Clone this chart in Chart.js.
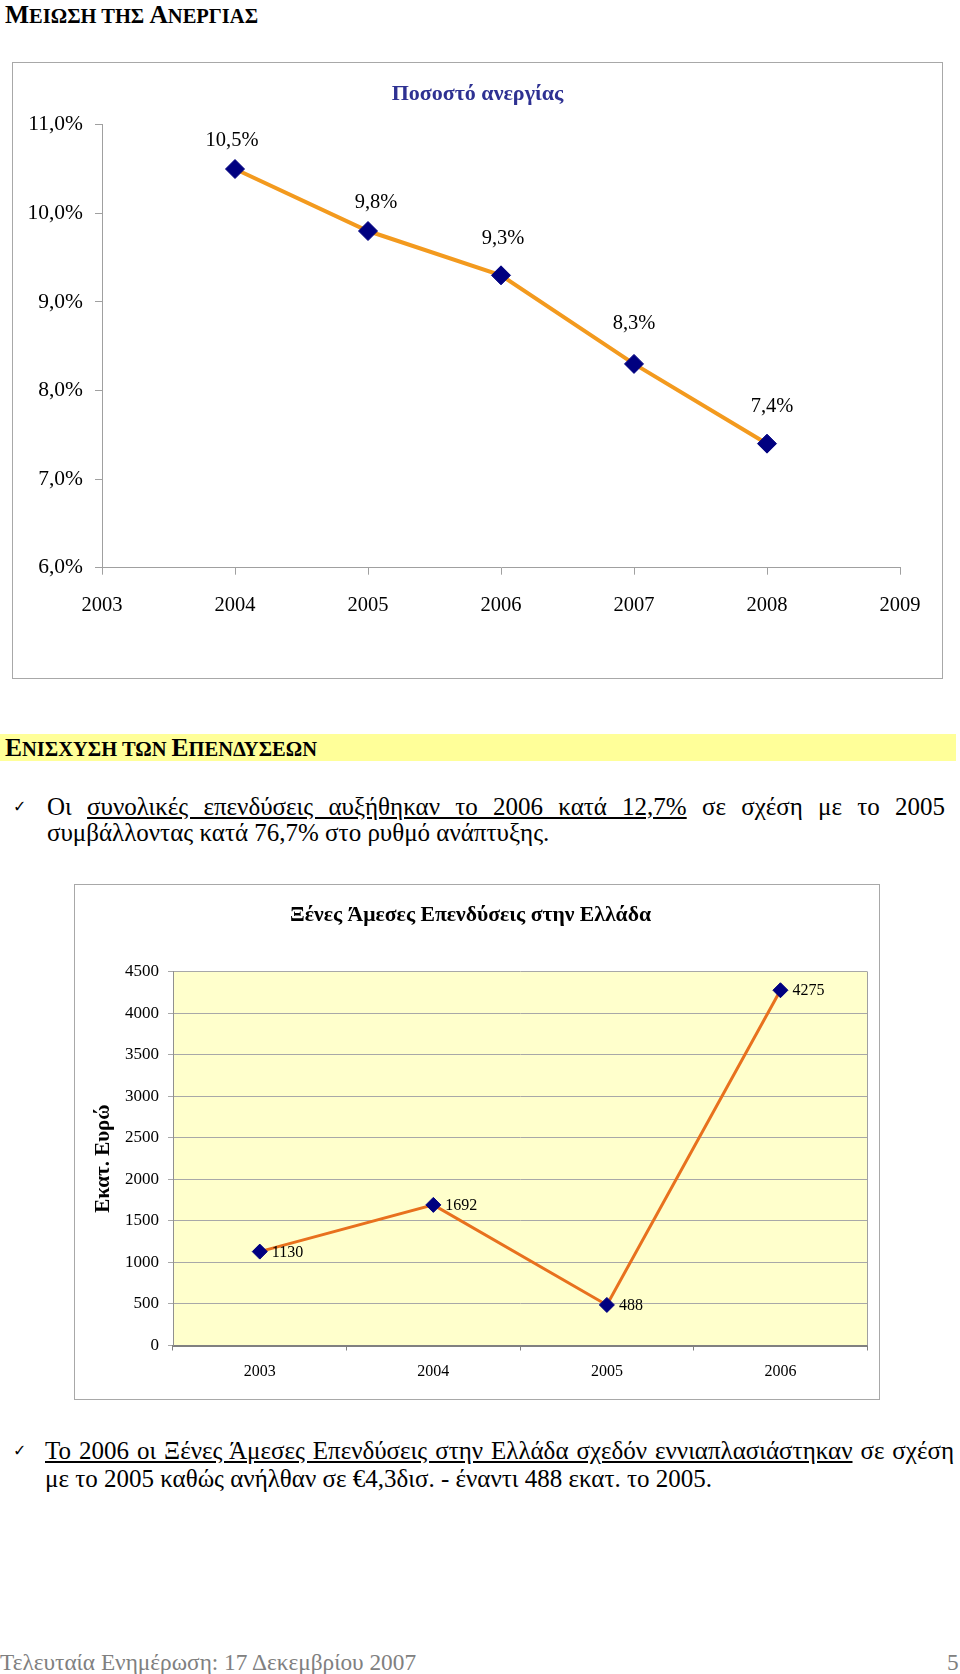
<!DOCTYPE html>
<html><head><meta charset="utf-8">
<script src="https://cdn.jsdelivr.net/npm/chart.js@4.4.1/dist/chart.umd.min.js"></script>
<style>
html,body{margin:0;padding:0;background:#fff;}
body{width:960px;height:1674px;position:relative;overflow:hidden;font-family:"Liberation Serif","Times New Roman",serif;color:#000;}
.abs{position:absolute;white-space:nowrap;}
.hd{font-weight:bold;}
.bg{font-size:25.5px}.sm{font-size:20.5px}
.chk{font-family:"DejaVu Sans",sans-serif;font-size:16px;}
.just{text-align:justify;text-align-last:justify;white-space:normal;}
canvas{position:absolute;outline:1px solid #A8A8A8;outline-offset:-1px;}
</style>
</head><body>
<div class="abs hd" style="left:5px;top:0px;line-height:30px;"><span class="bg">Μ</span><span class="sm">ΕΙΩΣΗ ΤΗΣ </span><span class="bg">Α</span><span class="sm">ΝΕΡΓΙΑΣ</span></div>

<canvas id="c1" width="931" height="617" style="left:12px;top:62px;"></canvas>

<div class="abs" style="left:0;top:734px;width:956px;height:27px;background:#FFFF99;"></div>
<div class="abs hd" style="left:5px;top:733px;line-height:29px;"><span class="bg">Ε</span><span class="sm">ΝΙΣΧΥΣΗ ΤΩΝ </span><span class="bg">Ε</span><span class="sm">ΠΕΝΔΥΣΕΩΝ</span></div>

<div class="abs chk" style="left:13px;top:794px;line-height:26px;">✓</div>
<div class="abs just" style="left:47px;top:794px;width:898px;font-size:25px;line-height:26px;">Οι <u>συνολικές επενδύσεις αυξήθηκαν το 2006 κατά 12,7%</u> σε σχέση με το 2005</div>
<div class="abs" style="left:47px;top:820px;font-size:25px;line-height:26px;">συμβάλλοντας κατά 76,7% στο ρυθμό ανάπτυξης.</div>

<canvas id="c2" width="806" height="516" style="left:74px;top:884px;"></canvas>

<div class="abs chk" style="left:13px;top:1437px;line-height:28px;">✓</div>
<div class="abs just" style="left:45px;top:1437px;width:909px;font-size:25px;line-height:28px;"><u>Το 2006 οι Ξένες Άμεσες Επενδύσεις στην Ελλάδα σχεδόν εννιαπλασιάστηκαν</u> σε σχέση</div>
<div class="abs" style="left:45px;top:1465px;font-size:25px;line-height:28px;">με το 2005 καθώς ανήλθαν σε €4,3δισ. - έναντι 488 εκατ. το 2005.</div>

<div class="abs" style="left:0;top:1649px;font-size:23.3px;line-height:26px;color:#808080;">Τελευταία Ενημέρωση: 17 Δεκεμβρίου 2007</div>
<div class="abs" style="left:947px;top:1649px;font-size:23.3px;line-height:26px;color:#808080;">5</div>

<script>
// Chart 1: unemployment rate
const unempYears = [2004, 2005, 2006, 2007, 2008];
const unempRates = [10.5, 9.8, 9.3, 8.3, 7.4];
const unempXRange = [2003, 2009];
const unempYRange = [6, 11];
// Chart 2: foreign direct investment (million euro)
const fdiYears = ['2003', '2004', '2005', '2006'];
const fdiValues = [1130, 1692, 488, 4275];
const fdiYRange = [0, 4500];

const SERIF = '"Liberation Serif","Times New Roman",serif';

const pointLabels = {
  id: 'pointLabels',
  afterDatasetsDraw(chart, args, opts) {
    const ctx = chart.ctx;
    const meta = chart.getDatasetMeta(0);
    const ds = chart.data.datasets[0].data;
    ctx.save();
    ctx.font = opts.font;
    ctx.fillStyle = '#000';
    ctx.textAlign = opts.align;
    ctx.textBaseline = 'middle';
    meta.data.forEach((pt, i) => {
      const v = typeof ds[i] === 'object' ? ds[i].y : ds[i];
      const dx = Array.isArray(opts.dx) ? opts.dx[i] : opts.dx;
      const dy = Array.isArray(opts.dy) ? opts.dy[i] : opts.dy;
      ctx.fillText(opts.format(v), pt.x + dx, pt.y + dy);
    });
    ctx.restore();
  }
};

const plotBg = {
  id: 'plotBg',
  beforeDraw(chart, args, opts) {
    if (!opts.color) return;
    const a = chart.chartArea, ctx = chart.ctx;
    ctx.save();
    ctx.fillStyle = opts.color;
    ctx.fillRect(a.left, a.top, a.right - a.left, a.bottom - a.top);
    ctx.restore();
  },
  beforeDatasetsDraw(chart, args, opts) {
    if (!opts.border) return;
    const a = chart.chartArea, ctx = chart.ctx;
    ctx.save();
    ctx.strokeStyle = opts.border;
    ctx.lineWidth = 1;
    ctx.beginPath();
    ctx.moveTo(Math.round(a.right) + 0.5, a.top);
    ctx.lineTo(Math.round(a.right) + 0.5, a.bottom);
    ctx.stroke();
    ctx.restore();
  }
};

const pct = v => v.toFixed(1).replace('.', ',') + '%';

new Chart(document.getElementById('c1'), {
  type: 'line',
  data: {
    datasets: [{
      data: unempYears.map((y, i) => ({ x: y, y: unempRates[i] })),
      yAxisID: 'y',
      borderColor: '#F39A1E',
      borderWidth: 4,
      tension: 0,
      pointStyle: 'rectRot',
      pointRadius: 9.5,
      pointBackgroundColor: '#000080',
      pointBorderColor: '#000080',
      pointBorderWidth: 1,
      clip: false
    }]
  },
  options: {
    responsive: false, animation: false, events: [],
    layout: { padding: 0 },
    plugins: {
      legend: { display: false }, tooltip: { enabled: false },
      title: { display: true, text: 'Ποσοστό ανεργίας', color: '#2E3192',
        font: { family: SERIF, size: 22, weight: 'bold' }, padding: { top: 19, bottom: 17.3 } },
      pointLabels: { font: '20.5px ' + SERIF, align: 'center',
        dx: [-3, 8, 2, 0, 5], dy: [-28, -28, -37, -40, -37], format: pct }
    },
    scales: {
      x: {
        type: 'linear', min: unempXRange[0], max: unempXRange[1],
        ticks: { stepSize: 1, callback: v => String(v), color: '#000', font: { family: SERIF, size: 20.5 }, padding: 18.3, maxRotation: 0, autoSkip: false },
        grid: { drawOnChartArea: false, drawTicks: true, tickLength: 7, color: '#A0A0A0' },
        border: { color: '#A0A0A0' },
        afterFit(s) { s.height = 111.3; }
      },
      y: {
        min: unempYRange[0], max: unempYRange[1],
        ticks: { stepSize: 1, callback: pct, color: '#000', font: { family: SERIF, size: 21.5 }, padding: 12 },
        grid: { drawOnChartArea: false, drawTicks: true, tickLength: 7, color: '#A0A0A0' },
        border: { color: '#A0A0A0' },
        afterFit(s) { s.width = 90; }
      },
      yR: {
        position: 'right', display: true,
        ticks: { display: false }, grid: { display: false }, border: { display: false },
        afterFit(s) { s.width = 43; }
      }
    }
  },
  plugins: [pointLabels]
});

new Chart(document.getElementById('c2'), {
  type: 'line',
  data: {
    labels: fdiYears,
    datasets: [{
      data: fdiValues,
      yAxisID: 'y',
      borderColor: '#E8711E',
      borderWidth: 3,
      tension: 0,
      pointStyle: 'rectRot',
      pointRadius: 7.5,
      pointBackgroundColor: '#000080',
      pointBorderColor: '#000080',
      pointBorderWidth: 1,
      clip: false
    }]
  },
  options: {
    responsive: false, animation: false, events: [],
    layout: { padding: { left: 0, top: 0, bottom: 0, right: 12.8 } },
    plugins: {
      legend: { display: false }, tooltip: { enabled: false },
      title: { display: true, text: 'Ξένες Άμεσες Επενδύσεις στην Ελλάδα', color: '#000',
        font: { family: SERIF, size: 21.7, weight: 'bold' }, padding: { top: 18, bottom: 43.5 } },
      pointLabels: { font: '16px ' + SERIF, align: 'left', dx: 12, dy: 1, format: v => String(v) },
      plotBg: { color: '#FFFFCC', border: '#A0A0A0' }
    },
    scales: {
      x: {
        type: 'category', offset: true,
        ticks: { color: '#000', font: { family: SERIF, size: 16 }, padding: 12, maxRotation: 0 },
        grid: { offset: true, drawOnChartArea: false, drawTicks: true, tickLength: 5, color: '#808080' },
        border: { color: '#808080', width: 2 },
        afterFit(s) { s.height = 54.5; }
      },
      y: {
        min: fdiYRange[0], max: fdiYRange[1],
        ticks: { stepSize: 500, callback: v => String(v), color: '#000', font: { family: SERIF, size: 17 }, padding: 9 },
        grid: { color: '#A8A8A8', drawTicks: true, tickLength: 5 },
        border: { color: '#909090' },
        title: { display: true, text: 'Εκατ. Ευρώ', color: '#000', font: { family: SERIF, size: 21, weight: 'bold' }, padding: { top: 17, bottom: 0 } },
        afterFit(s) { s.width = 99; }
      }
    }
  },
  plugins: [pointLabels, plotBg]
});
</script>
</body></html>
